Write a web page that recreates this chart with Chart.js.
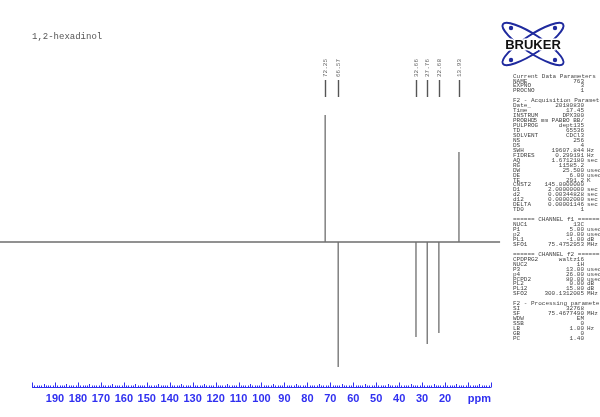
<!DOCTYPE html>
<html>
<head>
<meta charset="utf-8">
<script src="https://cdn.jsdelivr.net/npm/chart.js@4/dist/chart.umd.min.js"></script>
<style>
  body { margin: 0; background: #fff; }
  canvas { display: block; }
</style>
</head>
<body>
<canvas id="spectrum" width="600" height="417"></canvas>
<script>
const title = "1,2-hexadinol";

// peaks (ppm) and their intensities (negative = inverted DEPT signal)
const peakPpm = [72.25, 66.57, 32.66, 27.76, 22.68, 13.93];
const peakIntensity = [127, -125, -95, -102, -91, 90];
const peakLabels = ["72.25", "66.57", "32.66", "27.76", "22.68", "13.93"];

// spectrum range and axis ticks
const spectrumStart = 214;
const spectrumEnd = -4;
const axisTicks = [190, 180, 170, 160, 150, 140, 130, 120, 110, 100, 90, 80, 70, 60, 50, 40, 30, 20];

// acquisition parameter block: [name, value, unit]
const params = [
	["Current Data Parameters"],
	["NAME", "763", ""],
	["EXPNO", "3", ""],
	["PROCNO", "1", ""],
	[""],
	["F2 - Acquisition Parameters"],
	["Date_", "20180830", ""],
	["Time", "17.45", ""],
	["INSTRUM", "DPX300", ""],
	["PROBHD", "5 mm PABBO BB/", ""],
	["PULPROG", "dept135", ""],
	["TD", "65536", ""],
	["SOLVENT", "CDCl3", ""],
	["NS", "256", ""],
	["DS", "4", ""],
	["SWH", "19607.844", "Hz"],
	["FIDRES", "0.299191", "Hz"],
	["AQ", "1.6712180", "sec"],
	["RG", "11585.2", ""],
	["DW", "25.500", "usec"],
	["DE", "6.00", "usec"],
	["TE", "291.2", "K"],
	["CNST2", "145.0000000", ""],
	["D1", "2.00000000", "sec"],
	["d2", "0.00344828", "sec"],
	["d12", "0.00002000", "sec"],
	["DELTA", "0.00001146", "sec"],
	["TD0", "1", ""],
	[""],
	["====== CHANNEL f1 ======="],
	["NUC1", "13C", ""],
	["P1", "5.00", "usec"],
	["p2", "10.00", "usec"],
	["PL1", "-1.00", "dB"],
	["SFO1", "75.4752953", "MHz"],
	[""],
	["====== CHANNEL f2 ======="],
	["CPDPRG2", "waltz16", ""],
	["NUC2", "1H", ""],
	["P3", "13.00", "usec"],
	["p4", "26.00", "usec"],
	["PCPD2", "80.00", "usec"],
	["PL2", "0.00", "dB"],
	["PL12", "15.80", "dB"],
	["SFO2", "300.1312005", "MHz"],
	[""],
	["F2 - Processing parameters"],
	["SI", "32768", ""],
	["SF", "75.4677490", "MHz"],
	["WDW", "EM", ""],
	["SSB", "0", ""],
	["LB", "1.00", "Hz"],
	["GB", "0", ""],
	["PC", "1.40", ""],
];

// stick spectrum built from the peak list, highest ppm first
const points = [{ x: spectrumStart, y: 0 }];
peakPpm.forEach((p, i) => {
	points.push({ x: p, y: 0 }, { x: p, y: peakIntensity[i] }, { x: p, y: 0 });
});
points.push({ x: spectrumEnd, y: 0 });

const mono = "'Liberation Mono', 'DejaVu Sans Mono', monospace";
const axisBlue = "#3030f0";

const decorations = {
	id: "decorations",
	afterDatasetsDraw(chart) {
		const ctx = chart.ctx;
		const xs = chart.scales.x;
		ctx.save();

		// title
		ctx.fillStyle = "#555";
		ctx.font = "9px " + mono;
		ctx.textBaseline = "middle";
		ctx.textAlign = "left";
		ctx.fillText(title, 32, 37);

		// peak labels
		peakPpm.forEach((p, i) => {
			const px = Math.round(xs.getPixelForValue(p)) + 0.5;
			ctx.strokeStyle = "#555";
			ctx.lineWidth = 1.4;
			ctx.beginPath();
			ctx.moveTo(px, 80);
			ctx.lineTo(px, 97);
			ctx.stroke();
			ctx.save();
			ctx.translate(px, 77);
			ctx.rotate(-Math.PI / 2);
			ctx.fillStyle = "#666";
			ctx.font = "6px " + mono;
			ctx.textAlign = "left";
			ctx.textBaseline = "middle";
			ctx.fillText(peakLabels[i], 0, 0);
			ctx.restore();
		});

		// ppm axis
		const ay = 387.5;
		const x0 = xs.getPixelForValue(200);
		const x1 = xs.getPixelForValue(0);
		ctx.strokeStyle = axisBlue;
		ctx.lineWidth = 1;
		ctx.beginPath();
		ctx.moveTo(x0, ay);
		ctx.lineTo(x1, ay);
		for (let v = 200; v >= 0; v--) {
			const px = Math.round(xs.getPixelForValue(v)) + 0.5;
			const h = v % 10 === 0 ? 5 : v % 5 === 0 ? 3.5 : 2;
			ctx.moveTo(px, ay);
			ctx.lineTo(px, ay - h);
		}
		ctx.stroke();
		ctx.fillStyle = axisBlue;
		ctx.font = "bold 11px 'Liberation Sans', Arial, sans-serif";
		ctx.textAlign = "center";
		ctx.textBaseline = "middle";
		axisTicks.forEach((v) => {
			ctx.fillText(String(v), xs.getPixelForValue(v), 399);
		});
		ctx.textAlign = "right";
		ctx.fillText("ppm", x1, 399);

		// Bruker logo
		const cx = 533, cy = 44;
		ctx.strokeStyle = "#1f2a9e";
		ctx.fillStyle = "#1f2a9e";
		ctx.lineWidth = 2;
		[-0.58, 0.58].forEach((a) => {
			ctx.beginPath();
			ctx.ellipse(cx, cy, 36, 9, a, 0, Math.PI * 2);
			ctx.stroke();
		});
		[[-22, -16], [22, -16], [-22, 16], [22, 16]].forEach(([dx, dy]) => {
			ctx.beginPath();
			ctx.arc(cx + dx, cy + dy, 2.2, 0, Math.PI * 2);
			ctx.fill();
		});
		ctx.font = "bold 13px 'Liberation Sans', Arial, sans-serif";
		ctx.textAlign = "center";
		ctx.textBaseline = "middle";
		ctx.lineWidth = 3;
		ctx.strokeStyle = "#fff";
		ctx.strokeText("BRUKER", cx, cy + 1);
		ctx.fillStyle = "#111";
		ctx.fillText("BRUKER", cx, cy + 1);

		// parameter block
		ctx.font = "6px " + mono;
		ctx.fillStyle = "#444";
		ctx.textBaseline = "middle";
		params.forEach((row, i) => {
			const y = 76 + i * 4.95;
			ctx.textAlign = "left";
			ctx.fillText(row[0], 513, y);
			if (row.length > 1) {
				ctx.textAlign = "right";
				ctx.fillText(row[1], 584, y);
				ctx.textAlign = "left";
				ctx.fillText(row[2], 587, y);
			}
		});

		ctx.restore();
	},
};

new Chart(document.getElementById("spectrum"), {
	type: "line",
	data: {
		datasets: [
			{
				data: points,
				borderColor: "#6e6e6e",
				borderWidth: 1.3,
				pointRadius: 0,
				tension: 0,
				fill: false,
			},
		],
	},
	options: {
		responsive: false,
		animation: false,
		layout: { padding: 0 },
		plugins: { legend: { display: false }, tooltip: { enabled: false } },
		scales: {
			x: { type: "linear", min: -47.55, max: 213.98, reverse: true, display: false },
			y: { min: -175, max: 242, display: false },
		},
	},
	plugins: [decorations],
});
</script>
</body>
</html>
